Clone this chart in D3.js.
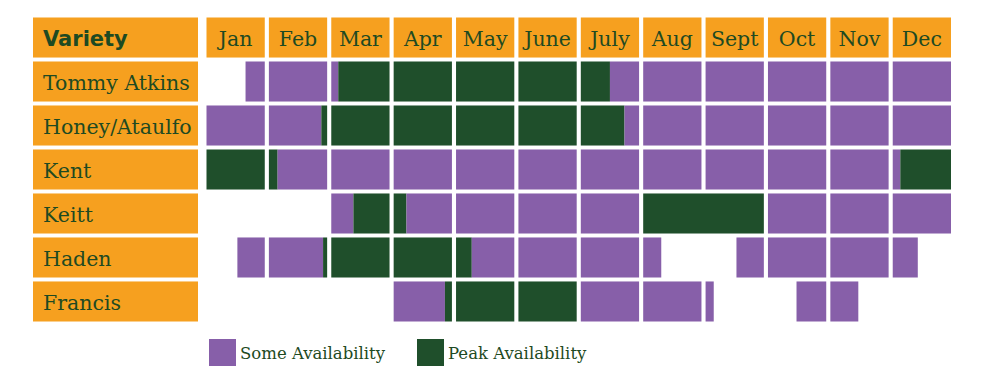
<!DOCTYPE html>
<html>
<head>
<meta charset="utf-8">
<script src="https://cdn.jsdelivr.net/npm/d3@7"></script>
<style>
  html, body { margin: 0; padding: 0; background: #ffffff; }
  svg { display: block; }
</style>
</head>
<body>
<svg id="chart" width="984" height="392"></svg>
<script>
// ---- data ----
const months = ["Jan", "Feb", "Mar", "Apr", "May", "June", "July", "Aug", "Sept", "Oct", "Nov", "Dec"];
const varieties = ["Tommy Atkins", "Honey/Ataulfo", "Kent", "Keitt", "Haden", "Francis"];
const headerLabel = "Variety";
// segments: [start month, end month, availability, drawnAcrossGaps]
const tommyAtkins = [[0.67, 2.12, "some"], [2.12, 6.5, "peak"], [6.5, 12, "some"]];
const honeyAtaulfo = [[0, 1.9, "some"], [1.9, 6.75, "peak"], [6.75, 12, "some"]];
const kent = [[0, 1.15, "peak"], [1.15, 11.13, "some"], [11.13, 12, "peak"]];
const keitt = [[2, 2.38, "some"], [2.38, 3.22, "peak"], [3.22, 7, "some"], [7, 9, "peak", true], [9, 12, "some"]];
const haden = [[0.53, 1.93, "some"], [1.93, 4.27, "peak"], [4.27, 7.31, "some"], [8.53, 11.43, "some"]];
const francis = [[3, 3.88, "some"], [3.88, 6, "peak"], [6, 8.14, "some"], [9.49, 10.48, "some"]];
const rowSegments = [tommyAtkins, honeyAtaulfo, kent, keitt, haden, francis];
const legendKeys = ["some", "peak"];
const legendLabels = ["Some Availability", "Peak Availability"];

// ---- style ----
const ORANGE = "#F6A01F";
const PURPLE = "#875FA9";
const GREEN = "#1F4F2B";
const TEXT = "#1E4A22";
const color = d3.scaleOrdinal().domain(legendKeys).range([PURPLE, GREEN]);

const svg = d3.select("#chart");

const x = d3.scaleBand().domain(months).range([206.5, 951]).paddingInner(0.066);
const y = d3.scaleBand().domain([headerLabel, ...varieties]).range([17.5, 321.5]).paddingInner(0.09);
const labelX0 = 33, labelX1 = 198;
const bw = x.bandwidth();

// header label cell
svg.append("rect")
  .attr("x", labelX0).attr("y", y(headerLabel))
  .attr("width", labelX1 - labelX0).attr("height", y.bandwidth())
  .attr("fill", ORANGE);
svg.append("text")
  .attr("x", 43).attr("y", y(headerLabel) + y.bandwidth() / 2 + 8.5)
  .attr("font-family", "'DejaVu Sans', sans-serif")
  .attr("font-weight", "bold")
  .attr("font-size", 21)
  .attr("fill", TEXT)
  .text(headerLabel);

// month header cells
const mh = svg.append("g");
mh.selectAll("rect").data(months).join("rect")
  .attr("x", d => x(d)).attr("y", y(headerLabel))
  .attr("width", bw).attr("height", y.bandwidth())
  .attr("fill", ORANGE);
mh.selectAll("text").data(months).join("text")
  .attr("x", d => x(d) + bw / 2)
  .attr("y", y(headerLabel) + y.bandwidth() / 2 + 8)
  .attr("text-anchor", "middle")
  .attr("font-family", "'DejaVu Serif', serif")
  .attr("font-size", 20.5)
  .attr("fill", TEXT)
  .text(d => d);

// variety label cells
const vl = svg.append("g");
vl.selectAll("rect").data(varieties).join("rect")
  .attr("x", labelX0).attr("y", d => y(d))
  .attr("width", labelX1 - labelX0).attr("height", y.bandwidth())
  .attr("fill", ORANGE);
vl.selectAll("text").data(varieties).join("text")
  .attr("x", 43)
  .attr("y", d => y(d) + y.bandwidth() / 2 + 8.5)
  .attr("font-family", "'DejaVu Serif', serif")
  .attr("font-size", 20.5)
  .attr("fill", TEXT)
  .text(d => d);

// availability cells
const pieces = [];
varieties.forEach((v, i) => {
  rowSegments[i].forEach(([s, e, kind, joined]) => {
    if (joined) {
      const m0 = Math.floor(s), m1 = Math.ceil(e) - 1;
      const x0 = x(months[m0]) + (s - m0) * bw;
      const x1 = x(months[m1]) + (e - m1) * bw;
      pieces.push({ v, kind, x0, x1 });
      return;
    }
    for (let m = Math.floor(s); m < Math.ceil(e); m++) {
      const a = Math.max(s, m) - m, b = Math.min(e, m + 1) - m;
      if (b <= a) continue;
      pieces.push({ v, kind, x0: x(months[m]) + a * bw, x1: x(months[m]) + b * bw });
    }
  });
});
svg.append("g").selectAll("rect").data(pieces).join("rect")
  .attr("x", d => d.x0).attr("y", d => y(d.v))
  .attr("width", d => d.x1 - d.x0).attr("height", y.bandwidth())
  .attr("fill", d => color(d.kind));

// legend
const legendX = [209, 417];
const lg = svg.append("g");
lg.selectAll("rect").data(legendKeys).join("rect")
  .attr("x", (d, i) => legendX[i]).attr("y", 339)
  .attr("width", 27).attr("height", 27)
  .attr("fill", d => color(d));
lg.selectAll("text").data(legendLabels).join("text")
  .attr("x", (d, i) => legendX[i] + 31).attr("y", 358.5)
  .attr("font-family", "'DejaVu Serif', serif")
  .attr("font-size", 16.5)
  .attr("fill", TEXT)
  .text(d => d);
</script>
</body>
</html>
